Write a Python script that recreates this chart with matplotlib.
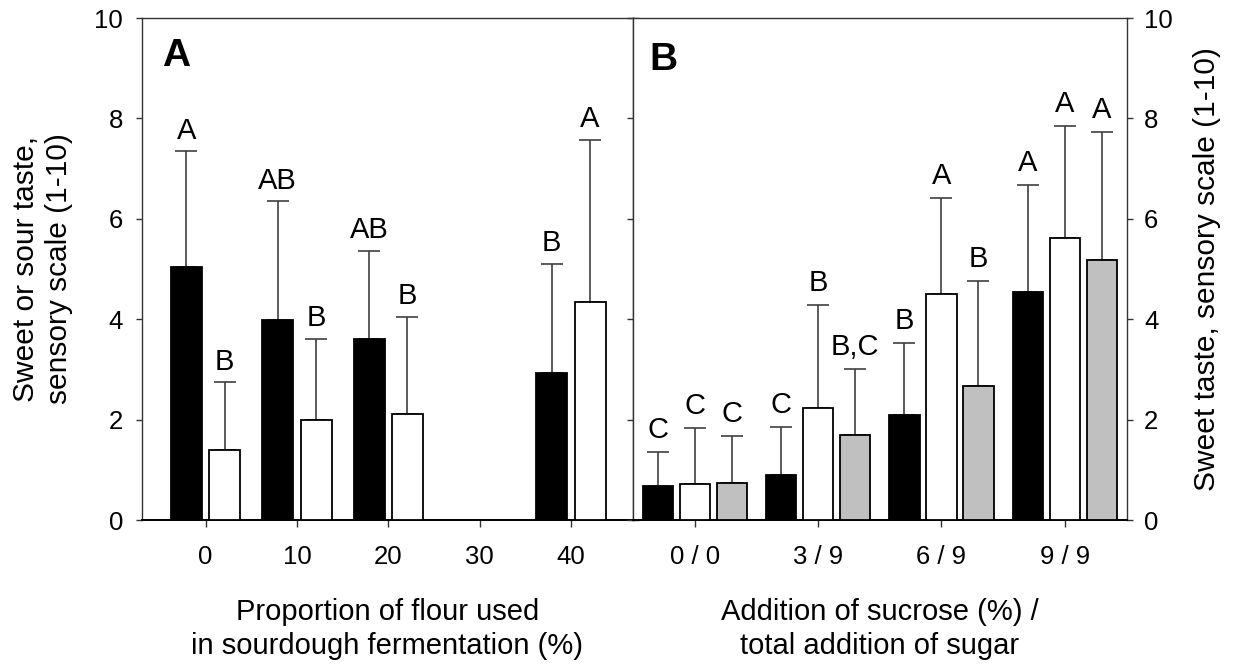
import numpy as np
import matplotlib
matplotlib.use('Agg')
import matplotlib.pyplot as plt

plt.rcParams['font.family'] = ['Liberation Sans', 'DejaVu Sans']

# panel A: proportion of flour used in sourdough fermentation
flour = ['0', '10', '20', '30', '40']
a_s1_mean = [5.05, 3.99, 3.60, np.nan, 2.93]
a_s1_sd = [2.30, 2.36, 1.76, np.nan, 2.17]
a_s1_lab = ['A', 'AB', 'AB', '', 'B']
a_s2_mean = [1.40, 1.99, 2.12, np.nan, 4.34]
a_s2_sd = [1.34, 1.62, 1.93, np.nan, 3.23]
a_s2_lab = ['B', 'B', 'B', '', 'A']

# panel B: addition of sucrose / total sugar
sugar = ['0 / 0', '3 / 9', '6 / 9', '9 / 9']
b_s1_mean = [0.68, 0.89, 2.10, 4.54]
b_s1_sd = [0.67, 0.97, 1.43, 2.13]
b_s1_lab = ['C', 'C', 'B', 'A']
b_s2_mean = [0.72, 2.23, 4.51, 5.62]
b_s2_sd = [1.12, 2.05, 1.91, 2.22]
b_s2_lab = ['C', 'B', 'A', 'A']
b_s3_mean = [0.74, 1.70, 2.67, 5.18]
b_s3_sd = [0.94, 1.30, 2.09, 2.54]
b_s3_lab = ['C', 'B,C', 'B', 'A']

fig = plt.figure(figsize=(12.34, 6.65), dpi=100)
ax_a = fig.add_axes([0.1148, 0.2180, 0.3982, 0.7549])
ax_b = fig.add_axes([0.5130, 0.2180, 0.3999, 0.7549])

spine_col = '#333333'
err_col = '#404040'


def draw_group(ax, x, mean, sd, labels, color, width, lab_off):
    x = np.asarray(x, dtype=float)
    mean = np.asarray(mean, dtype=float)
    sd = np.asarray(sd, dtype=float)
    ok = ~np.isnan(mean)
    ax.bar(x[ok], mean[ok], width=width, color=color, edgecolor='black',
           linewidth=1.3, zorder=3)
    ax.errorbar(x[ok], mean[ok], yerr=[np.zeros(ok.sum()), sd[ok]], fmt='none',
                ecolor=err_col, elinewidth=1.2, capsize=8, capthick=1.2, zorder=2)
    for xi, m, s, t in zip(x, mean, sd, labels):
        if np.isnan(m) or not t:
            continue
        ax.text(xi, m + s + lab_off, t, ha='center', va='baseline', fontsize=21)


xa = np.arange(len(flour))
draw_group(ax_a, xa - 0.21, a_s1_mean, a_s1_sd, a_s1_lab, 'black', 0.34, 0.25)
draw_group(ax_a, xa + 0.21, a_s2_mean, a_s2_sd, a_s2_lab, 'white', 0.34, 0.25)

xb = np.arange(len(sugar))
draw_group(ax_b, xb - 0.30, b_s1_mean, b_s1_sd, b_s1_lab, 'black', 0.245, 0.28)
draw_group(ax_b, xb, b_s2_mean, b_s2_sd, b_s2_lab, 'white', 0.245, 0.28)
draw_group(ax_b, xb + 0.30, b_s3_mean, b_s3_sd, b_s3_lab, '#c0c0c0', 0.245, 0.28)

ax_a.set_xlim(-0.7, 4.68)
ax_b.set_xlim(-0.5, 3.5)
for ax in (ax_a, ax_b):
    ax.set_ylim(0, 10)
    ax.set_yticks(np.arange(0, 11, 2))
    for s in ax.spines.values():
        s.set_color(spine_col)
        s.set_linewidth(1.0)
    ax.spines['bottom'].set_color('black')
    ax.spines['bottom'].set_linewidth(1.4)
    ax.tick_params(axis='x', direction='out', length=5, width=1, color=spine_col,
                   pad=13, labelsize=18.5)
    ax.tick_params(axis='y', direction='out', length=4.5, width=1, color=spine_col,
                   left=True, right=True, labelsize=18.5)

ax_a.set_xticks(xa)
ax_a.set_xticklabels(flour)
ax_b.set_xticks(xb)
ax_b.set_xticklabels(sugar)

ax_a.tick_params(axis='y', labelleft=True, labelright=False, pad=9)
ax_b.tick_params(axis='y', labelleft=False, labelright=True, pad=8)

ax_a.set_ylabel('Sweet or sour taste,\nsensory scale (1-10)', fontsize=21.5,
                linespacing=1.25, labelpad=15)
ax_b.yaxis.set_label_position('right')
ax_b.set_ylabel('Sweet taste, sensory scale (1-10)', fontsize=21.5, labelpad=15)

ax_a.set_xlabel('Proportion of flour used\nin sourdough fermentation (%)',
                fontsize=21, linespacing=1.25, labelpad=21)
ax_b.set_xlabel('Addition of sucrose (%) /\ntotal addition of sugar',
                fontsize=21, linespacing=1.25, labelpad=21)

ax_a.text(0.041, 0.904, 'A', transform=ax_a.transAxes, fontsize=28,
          fontweight='bold', ha='left', va='baseline')
ax_b.text(0.033, 0.897, 'B', transform=ax_b.transAxes, fontsize=28,
          fontweight='bold', ha='left', va='baseline')

fig.savefig('out.png', dpi=100)
